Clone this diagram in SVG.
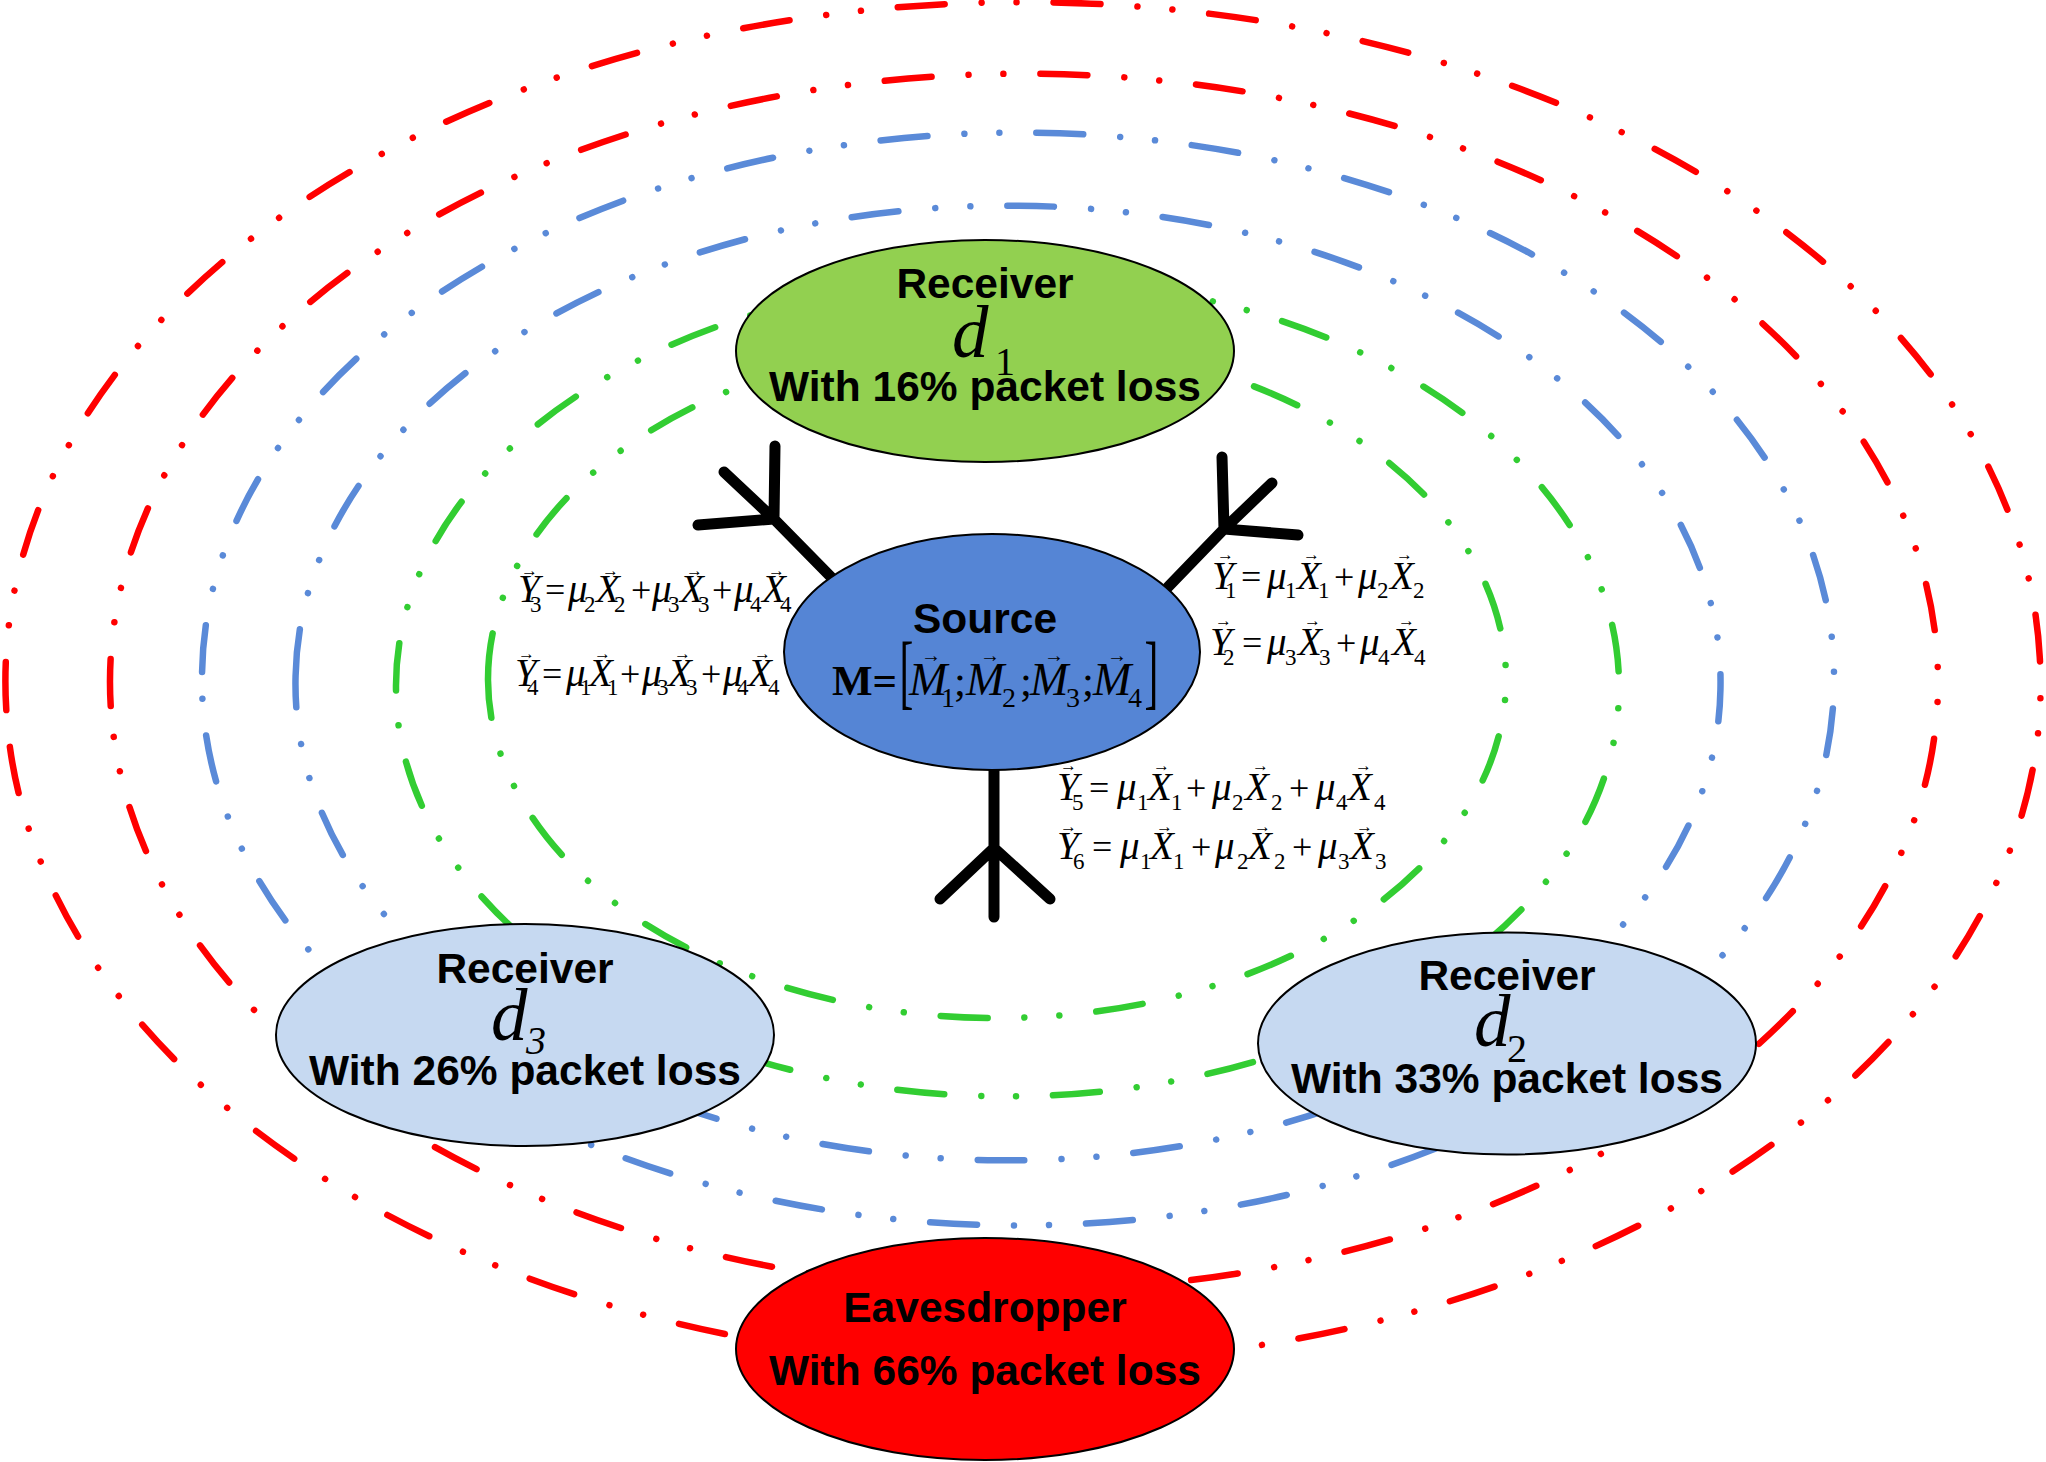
<svg xmlns="http://www.w3.org/2000/svg" width="2046" height="1462" viewBox="0 0 2046 1462">
<style>
.ring{fill:none;stroke-width:6.5;stroke-linecap:round;stroke-dasharray:47 37 .01 35 .01 37}
.r{stroke:#f00}.b{stroke:#5a8ad8}.g{stroke:#32cd32}
.ant{fill:none;stroke:#000;stroke-width:11;stroke-linecap:round;stroke-linejoin:round}
.n{stroke:#000;stroke-width:2}
.lb{font:bold 42.5px "Liberation Sans",Arial,sans-serif;text-anchor:middle;fill:#000}
.eq,.a,.big,.bs,.br{font-family:"Liberation Serif","Times New Roman",serif;fill:#000}
.v{font-size:39px;font-style:italic}.o{font-size:36px}.s{font-size:23px}
.a{font-size:17px}
.big{font-size:73px;font-style:italic}.bs{font-size:40px}
.mv{font-size:46px;font-style:italic}.mb{font-size:43px;font-weight:bold}.ms{font-size:28px}.mo{font-size:43px}
.am{font-size:20px}.br{font-size:83px}
</style>
<g id="rings">
<path class="ring r" d="M6.25 709A1017.5 679 0 1 1 2039.75 657A1017.5 679 0 1 1 6.25 709"/>
<path class="ring r" d="M110.71 706A914 608 0 1 1 1937.29 658A914 608 0 1 1 110.71 706"/>
<path class="ring b" d="M202.07 672A816 545 0 1 1 1833.93 686A816 545 0 1 1 202.07 672"/>
<path class="ring b" d="M295.58 676A712.5 476 0 1 1 1720.42 690A712.5 476 0 1 1 295.58 676"/>
<path class="ring g" d="M396.02 690A611.5 408 0 1 1 1618.98 684A611.5 408 0 1 1 396.02 690"/>
<path class="ring g" d="M488 680A509 339 0 1 1 1506 678A509 339 0 1 1 488 680"/>
</g>
<g id="connectors">
<path class="ant" d="M831 577L774 519M775 446L774 519L698 525M724 472L774 519"/>
<path class="ant" d="M1168 587L1224 529M1222 457L1224 529L1298 535M1272 483L1224 529"/>
<path class="ant" d="M994 770V917M940 899L994 848L1050 899"/>
</g>
<g id="receiver-d1">
<ellipse class="n" cx="985" cy="351" rx="249" ry="111" fill="#92d050"/>
<text class="lb" x="985" y="298">Receiver</text>
<text class="big" x="952" y="357">d</text><text class="bs" x="995" y="375">1</text>
<text class="lb" x="985" y="401">With 16% packet loss</text>
</g>
<g id="receiver-d3">
<ellipse class="n" cx="525" cy="1035" rx="249" ry="111" fill="#c6d9f1"/>
<text class="lb" x="525" y="983">Receiver</text>
<text class="big" x="491" y="1040">d</text><text class="bs" x="526" y="1054" font-style="italic">3</text>
<text class="lb" x="525" y="1085">With 26% packet loss</text>
</g>
<g id="receiver-d2">
<ellipse class="n" cx="1507" cy="1043.5" rx="249" ry="111" fill="#c6d9f1"/>
<text class="lb" x="1507" y="990">Receiver</text>
<text class="big" x="1474" y="1046">d</text><text class="bs" x="1507" y="1062">2</text>
<text class="lb" x="1507" y="1093">With 33% packet loss</text>
</g>
<g id="eavesdropper">
<ellipse class="n" cx="985" cy="1349" rx="249" ry="111" fill="#f00"/>
<text class="lb" x="985" y="1322">Eavesdropper</text>
<text class="lb" x="985" y="1385">With 66% packet loss</text>
</g>
<g id="source">
<ellipse class="n" cx="992" cy="652" rx="208" ry="118" fill="#5585d5"/>
<text class="lb" x="985" y="633">Source</text>
<text class="eq"><tspan class="mb" x="832" y="695">M=</tspan><tspan class="mv" x="909" y="695">M</tspan><tspan class="ms" x="941" y="707">1</tspan><tspan class="mo" x="954" y="695">;</tspan><tspan class="mv" x="966" y="695">M</tspan><tspan class="ms" x="1002" y="707">2</tspan><tspan class="mo" x="1020" y="695">;</tspan><tspan class="mv" x="1030" y="695">M</tspan><tspan class="ms" x="1066" y="707">3</tspan><tspan class="mo" x="1082" y="695">;</tspan><tspan class="mv" x="1093" y="695">M</tspan><tspan class="ms" x="1128" y="707">4</tspan></text>
<text class="br" transform="translate(899.4 699) scale(.5 1)">[</text>
<text class="br" transform="translate(1144.6 699) scale(.5 1)">]</text>
<text class="a am" x="921" y="662">→</text><text class="a am" x="980" y="662">→</text><text class="a am" x="1044" y="662">→</text><text class="a am" x="1107" y="662">→</text>
</g>
<g id="eq-y3">
<text class="eq"><tspan class="v" x="518" y="602">Y</tspan><tspan class="s" x="530" y="612">3</tspan><tspan class="o" x="545" y="602">=</tspan><tspan class="v" x="568" y="602">μ</tspan><tspan class="s" x="584" y="612">2</tspan><tspan class="v" x="596" y="602">X</tspan><tspan class="s" x="614" y="612">2</tspan><tspan class="o" x="631" y="602">+</tspan><tspan class="v" x="652" y="602">μ</tspan><tspan class="s" x="668" y="612">3</tspan><tspan class="v" x="680" y="602">X</tspan><tspan class="s" x="698" y="612">3</tspan><tspan class="o" x="712" y="602">+</tspan><tspan class="v" x="734" y="602">μ</tspan><tspan class="s" x="750" y="612">4</tspan><tspan class="v" x="762" y="602">X</tspan><tspan class="s" x="780" y="612">4</tspan></text>
<text class="a" y="576"><tspan x="521">→</tspan><tspan x="602">→</tspan><tspan x="686">→</tspan><tspan x="768">→</tspan></text>
</g>
<g id="eq-y4">
<text class="eq"><tspan class="v" x="515" y="686">Y</tspan><tspan class="s" x="527" y="695">4</tspan><tspan class="o" x="542" y="686">=</tspan><tspan class="v" x="566" y="686">μ</tspan><tspan class="s" x="580" y="695">1</tspan><tspan class="v" x="589" y="686">X</tspan><tspan class="s" x="607" y="695">1</tspan><tspan class="o" x="620" y="686">+</tspan><tspan class="v" x="642" y="686">μ</tspan><tspan class="s" x="657" y="695">3</tspan><tspan class="v" x="668" y="686">X</tspan><tspan class="s" x="686" y="695">3</tspan><tspan class="o" x="701" y="686">+</tspan><tspan class="v" x="723" y="686">μ</tspan><tspan class="s" x="737" y="695">4</tspan><tspan class="v" x="748" y="686">X</tspan><tspan class="s" x="768" y="695">4</tspan></text>
<text class="a" y="659"><tspan x="518">→</tspan><tspan x="594">→</tspan><tspan x="674">→</tspan><tspan x="754">→</tspan></text>
</g>
<g id="eq-y1">
<text class="eq"><tspan class="v" x="1212" y="589">Y</tspan><tspan class="s" x="1225" y="598">1</tspan><tspan class="o" x="1241" y="589">=</tspan><tspan class="v" x="1267" y="589">μ</tspan><tspan class="s" x="1285" y="598">1</tspan><tspan class="v" x="1297" y="589">X</tspan><tspan class="s" x="1318" y="598">1</tspan><tspan class="o" x="1334" y="589">+</tspan><tspan class="v" x="1358" y="589">μ</tspan><tspan class="s" x="1377" y="598">2</tspan><tspan class="v" x="1390" y="589">X</tspan><tspan class="s" x="1413" y="598">2</tspan></text>
<text class="a" y="560"><tspan x="1217">→</tspan><tspan x="1303">→</tspan><tspan x="1396">→</tspan></text>
</g>
<g id="eq-y2">
<text class="eq"><tspan class="v" x="1210" y="655">Y</tspan><tspan class="s" x="1223" y="665">2</tspan><tspan class="o" x="1242" y="655">=</tspan><tspan class="v" x="1267" y="655">μ</tspan><tspan class="s" x="1285" y="665">3</tspan><tspan class="v" x="1298" y="655">X</tspan><tspan class="s" x="1319" y="665">3</tspan><tspan class="o" x="1336" y="655">+</tspan><tspan class="v" x="1360" y="655">μ</tspan><tspan class="s" x="1378" y="665">4</tspan><tspan class="v" x="1392" y="655">X</tspan><tspan class="s" x="1414" y="665">4</tspan></text>
<text class="a" y="626"><tspan x="1215">→</tspan><tspan x="1304">→</tspan><tspan x="1398">→</tspan></text>
</g>
<g id="eq-y5">
<text class="eq"><tspan class="v" x="1057" y="800">Y</tspan><tspan class="s" x="1072" y="810">5</tspan><tspan class="o" x="1089" y="800">=</tspan><tspan class="v" x="1117" y="800">μ</tspan><tspan class="s" x="1137" y="810">1</tspan><tspan class="v" x="1148" y="800">X</tspan><tspan class="s" x="1171" y="810">1</tspan><tspan class="o" x="1186" y="800">+</tspan><tspan class="v" x="1212" y="800">μ</tspan><tspan class="s" x="1232" y="810">2</tspan><tspan class="v" x="1245" y="800">X</tspan><tspan class="s" x="1271" y="810">2</tspan><tspan class="o" x="1289" y="800">+</tspan><tspan class="v" x="1316" y="800">μ</tspan><tspan class="s" x="1336" y="810">4</tspan><tspan class="v" x="1348" y="800">X</tspan><tspan class="s" x="1374" y="810">4</tspan></text>
<text class="a" y="771"><tspan x="1060">→</tspan><tspan x="1153">→</tspan><tspan x="1252">→</tspan><tspan x="1355">→</tspan></text>
</g>
<g id="eq-y6">
<text class="eq"><tspan class="v" x="1057" y="859">Y</tspan><tspan class="s" x="1073" y="869">6</tspan><tspan class="o" x="1092" y="859">=</tspan><tspan class="v" x="1120" y="859">μ</tspan><tspan class="s" x="1140" y="869">1</tspan><tspan class="v" x="1150" y="859">X</tspan><tspan class="s" x="1173" y="869">1</tspan><tspan class="o" x="1191" y="859">+</tspan><tspan class="v" x="1215" y="859">μ</tspan><tspan class="s" x="1237" y="869">2</tspan><tspan class="v" x="1248" y="859">X</tspan><tspan class="s" x="1274" y="869">2</tspan><tspan class="o" x="1292" y="859">+</tspan><tspan class="v" x="1318" y="859">μ</tspan><tspan class="s" x="1338" y="869">3</tspan><tspan class="v" x="1350" y="859">X</tspan><tspan class="s" x="1375" y="869">3</tspan></text>
<text class="a" y="832"><tspan x="1060">→</tspan><tspan x="1156">→</tspan><tspan x="1254">→</tspan><tspan x="1356">→</tspan></text>
</g>
</svg>
